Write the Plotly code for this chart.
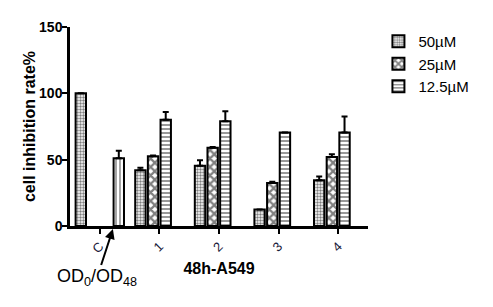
import plotly.graph_objects as go

# data
groups = ["C", "1", "2", "3", "4"]
conc_50 = [100, 42, 45.5, 12.4, 34.5]
err_50 = [0, 2, 4, 0, 2.8]
conc_25 = [None, 52.5, 59, 32.5, 52]
err_25 = [0, 0.6, 0.6, 0.8, 2]
conc_12 = [None, 80, 79, 70.5, 70.5]
err_12 = [0, 6, 7.5, 0, 12]
od_ratio = [51, None, None, None, None]
err_od = [5.8, 0, 0, 0, 0]

FONT = "Arial, Liberation Sans, sans-serif"


def bar(name, y, err, shape, size, solidity, legend=True):
    return go.Bar(
        x=groups,
        y=y,
        name=name,
        showlegend=legend,
        marker=dict(
            color="white",
            line=dict(color="black", width=2),
            pattern=dict(shape=shape, size=size, solidity=solidity,
                         fgcolor="black", bgcolor="white"),
        ),
        error_y=dict(type="data", array=err, arrayminus=[0] * len(err),
                     symmetric=False, color="black", thickness=2, width=3),
    )


fig = go.Figure()
fig.add_trace(bar("50µM", conc_50, err_50, ".", 3, 0.5))
fig.add_trace(bar("25µM", conc_25, err_25, "x", 6, 0.6))
fig.add_trace(bar("12.5µM", conc_12, err_12, "-", 4, 0.4))
fig.add_trace(bar("OD ratio", od_ratio, err_od, "|", 4, 0.35, legend=False))

# label with arrow pointing at the control bar (paper y so it is not hidden)
fig.add_annotation(x=0.22, y=-0.015, xref="x", yref="paper",
                   text="OD<sub>0</sub>/OD<sub>48</sub>",
                   font=dict(size=18, color="black"),
                   showarrow=True, ax=-16, ay=49, arrowhead=2,
                   arrowsize=1, arrowwidth=2, arrowcolor="black")

# page body adds 8px offset, so the figure is drawn 8px smaller
fig.update_layout(
    width=485,
    height=299,
    margin=dict(l=62, r=125, t=19, b=81, autoexpand=False),
    paper_bgcolor="white",
    plot_bgcolor="white",
    font=dict(family=FONT, color="black"),
    barmode="group",
    bargap=0.15,
    bargroupgap=0.18,
    legend=dict(x=1.035, y=1.01, xanchor="left", yanchor="top",
                font=dict(size=15), tracegroupgap=0, itemwidth=30),
)
fig.update_xaxes(
    range=[-0.5, 4.5],
    showline=True, linecolor="black", linewidth=2.5,
    ticks="outside", ticklen=5, tickwidth=2, tickcolor="black",
    tickangle=-45, tickfont=dict(size=13, color="#1a1a3a"),
    title=dict(text="<b>48h-A549</b>", font=dict(size=16), standoff=8),
    showgrid=False, zeroline=False, automargin=False,
)
fig.update_yaxes(
    range=[0, 150], tickvals=[0, 50, 100, 150],
    showline=True, linecolor="black", linewidth=2.5,
    ticks="outside", ticklen=5, tickwidth=2, tickcolor="black",
    ticklabelstandoff=-3,
    tickfont=dict(size=14, weight="bold"),
    title=dict(text="<b>cell inhibition rate%</b>", font=dict(size=16), standoff=0),
    showgrid=False, zeroline=False, automargin=False,
)

fig.write_html("out.html")
